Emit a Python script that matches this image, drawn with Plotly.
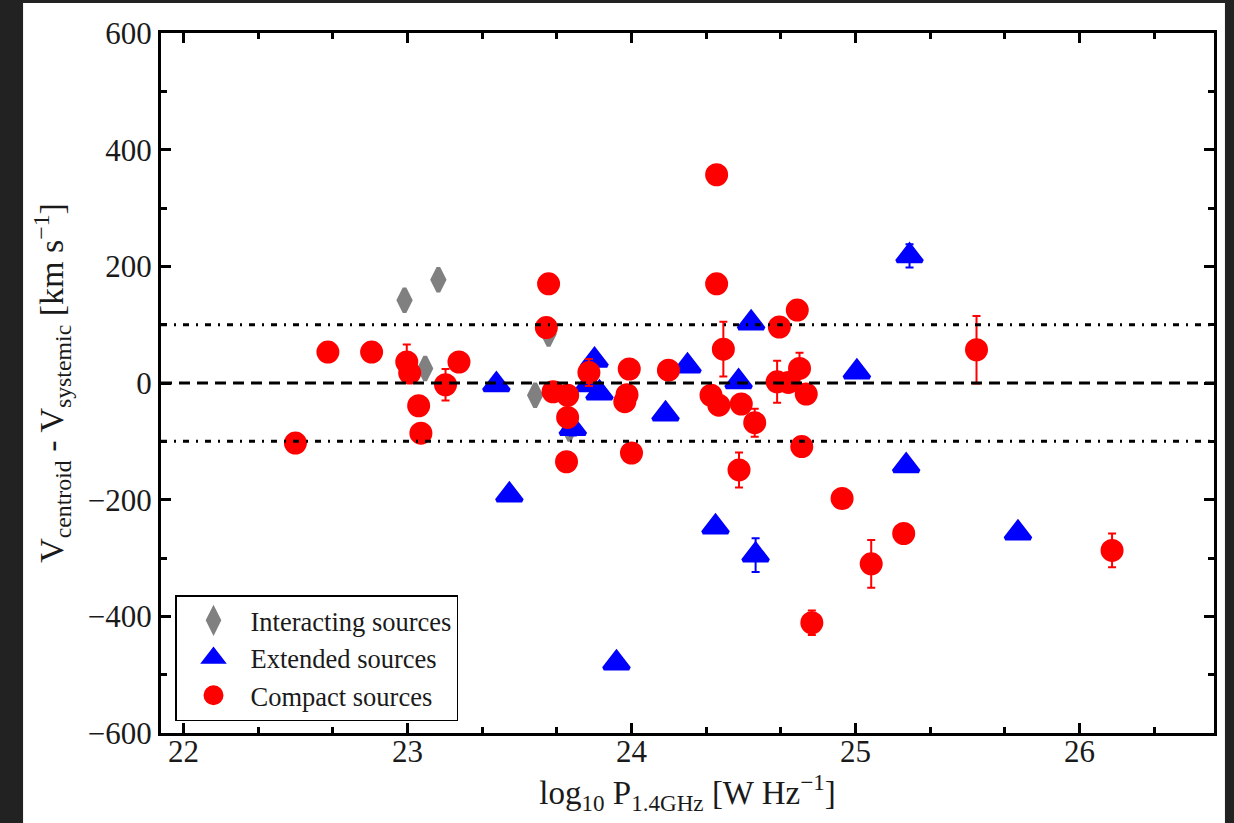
import plotly.graph_objects as go

# Interacting sources
int_logp = [22.987, 23.138, 23.079, 23.57, 23.63, 23.723]
int_dv = [142, 177, 25, -21, 84, -79]
int_err = [0, 0, 0, 0, 4, 6]

# Extended sources
ext_logp = [23.397, 23.455, 23.835, 23.81, 23.857, 23.738, 23.933, 24.152, 24.25,
            24.375, 24.478, 24.534, 24.554, 25.006, 25.241, 25.226, 25.725]
ext_dv = [-3, -192, 39, -3, -17, -78, -480, -53, 29,
          -247, 2, 103, -295, 19, 218, -142, -257]
ext_err = [0, 0, 0, 6, 0, 12, 0, 0, 0,
           0, 0, 0, 29, 8, 20, 0, 6]

# Compact sources
cmp_logp = [22.50, 22.645, 22.84, 22.997, 23.01, 23.05, 23.06, 23.17, 23.23,
            23.63, 23.62, 23.65, 23.715, 23.715, 23.71, 23.81, 23.98, 23.97,
            23.99, 24.0, 24.165, 24.38, 24.38, 24.41, 24.355, 24.39, 24.49,
            24.48, 24.55, 24.66, 24.74, 24.65, 24.70, 24.75, 24.78, 24.76,
            24.805, 24.94, 25.07, 25.215, 25.54, 26.145]
cmp_dv = [-103, 53, 53, 36, 17, -39, -86, -3, 36,
          170, 95, -15, -21, -59, -135, 18, -20, -32,
          24, -120, 22, 357, 170, 58, -21, -38, -36,
          -149, -68, 96, 125, 2, 1, 25, -19, -109,
          -411, -198, -310, -258, 57, -287]
cmp_err = [0, 0, 0, 30, 0, 0, 0, 27, 0,
           0, 3, 0, 0, 0, 0, 23, 0, 0,
           0, 0, 0, 0, 0, 47, 0, 0, 0,
           30, 24, 0, 0, 36, 0, 27, 0, 0,
           21, 0, 41, 0, 58, 29]

# Reference velocity offsets: zero and +/-100 km/s
zero_level = 0
band_levels = [100, -100]

SERIF = "Liberation Serif"
TXT = "#1a1a1a"

fig = go.Figure()


def add_group(name, xs, ys, errs, color, symbol, size):
    fig.add_trace(go.Scatter(
        x=xs, y=ys, mode="markers", name=name, legendgroup=name,
        marker=dict(color=color, symbol=symbol, size=size,
                    line=dict(color=color, width=4)),
        error_y=dict(type="data", array=errs, visible=True,
                     color=color, thickness=2, width=4),
    ))


add_group("Interacting sources", int_logp, int_dv, int_err, "#808080", "diamond-tall", 17)
add_group("Extended sources", ext_logp, ext_dv, ext_err, "#0000ff", "triangle-up", 22)
add_group("Compact sources", cmp_logp, cmp_dv, cmp_err, "#ff0000", "circle", 19)

shapes = [
    # white figure panel
    dict(type="rect", xref="paper", yref="paper",
         x0=-0.131, x1=1.0104, y0=-0.1286, y1=1.043,
         fillcolor="white", line=dict(width=0), layer="below"),
    dict(type="line", xref="paper", yref="y", x0=0, x1=1,
         y0=zero_level, y1=zero_level, layer="above",
         line=dict(color="black", width=3, dash="11px,7px")),
]
for lvl in band_levels:
    shapes.append(dict(type="line", xref="paper", yref="y", x0=0, x1=1,
                       y0=lvl, y1=lvl, layer="above",
                       line=dict(color="black", width=3, dash="6px,7px,2px,7px")))

axis_common = dict(
    showline=True, linewidth=3, linecolor="black", mirror="allticks",
    ticks="inside", ticklen=10, tickwidth=3, tickcolor="black",
    showgrid=False, zeroline=False, automargin=False,
    tickfont=dict(family=SERIF, size=31, color=TXT),
)

fig.update_layout(
    width=1234, height=823, autosize=False,
    margin=dict(l=161, r=20, t=33, b=90),
    paper_bgcolor="#222222", plot_bgcolor="white",
    shapes=shapes,
    showlegend=True,
    legend=dict(
        x=0.0133, y=0.017, xanchor="left", yanchor="bottom",
        bgcolor="white", bordercolor="black", borderwidth=1.5,
        font=dict(family=SERIF, size=26.5, color=TXT),
        itemwidth=64, tracegroupgap=0,
    ),
    xaxis=dict(
        range=[21.9, 26.6], tick0=22, dtick=1,
        minor=dict(tick0=22, dtick=1/3, ticks="inside", ticklen=6,
                   tickwidth=2.5, tickcolor="black", showgrid=False),
        ticklabelstandoff=-11,
        title=dict(text="log<sub>10</sub> P<sub>1.4GHz</sub> [W Hz<sup>−1</sup>]",
                   font=dict(family=SERIF, size=33, color=TXT), standoff=6),
        **axis_common,
    ),
    yaxis=dict(
        range=[-600, 600], tick0=0, dtick=200,
        minor=dict(tick0=0, dtick=100, ticks="inside", ticklen=6,
                   tickwidth=2.5, tickcolor="black", showgrid=False),
        title=dict(text="V<sub>centroid</sub> - V<sub>systemic</sub> [km s<sup>−1</sup>]",
                   font=dict(family=SERIF, size=34, color=TXT), standoff=14),
        **axis_common,
    ),
)

fig.write_html("out.html")
